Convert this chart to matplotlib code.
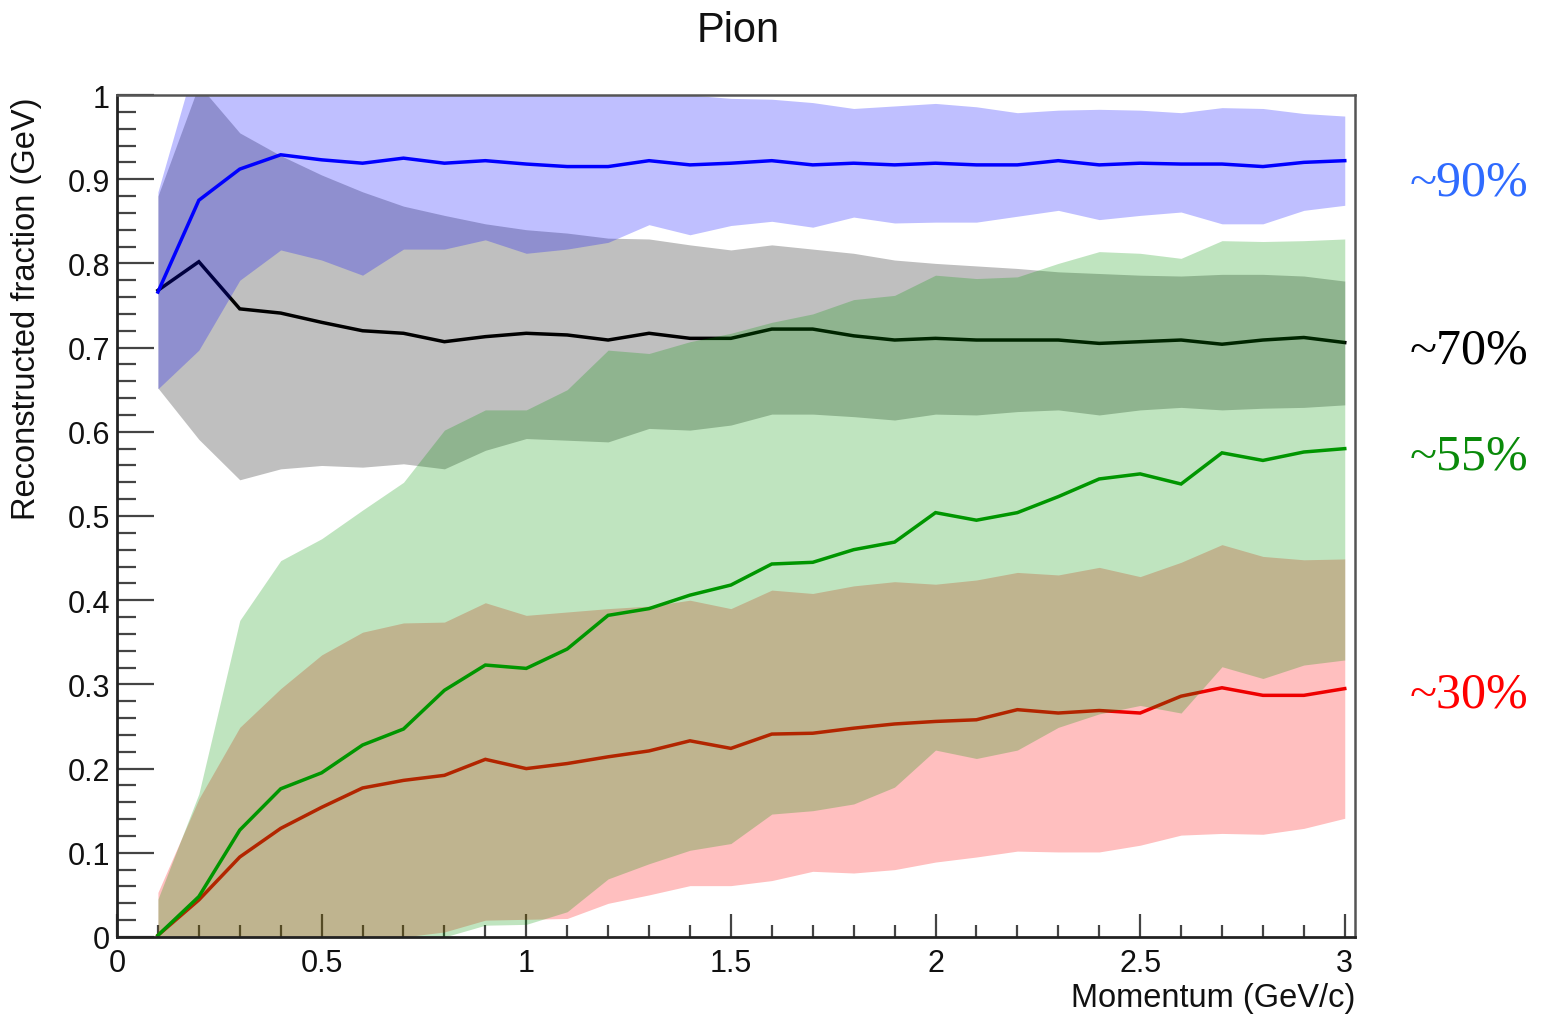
import matplotlib
matplotlib.use("Agg")
import matplotlib.pyplot as plt
from matplotlib.ticker import MultipleLocator, FuncFormatter

# Momentum bins (GeV/c)
momentum = [0.1, 0.2, 0.3, 0.4, 0.5, 0.6, 0.7, 0.8, 0.9, 1.0,
            1.1, 1.2, 1.3, 1.4, 1.5, 1.6, 1.7, 1.8, 1.9, 2.0,
            2.1, 2.2, 2.3, 2.4, 2.5, 2.6, 2.7, 2.8, 2.9, 3.0]

# Blue: mean and +/- spread
blue_mean = [0.766, 0.875, 0.912, 0.929, 0.923, 0.919, 0.925, 0.919, 0.922, 0.918,
             0.915, 0.915, 0.922, 0.917, 0.919, 0.922, 0.917, 0.919, 0.917, 0.919,
             0.917, 0.917, 0.922, 0.917, 0.919, 0.918, 0.918, 0.915, 0.920, 0.922]
blue_hi = [0.885, 1.055, 1.044, 1.042, 1.042, 1.052, 1.033, 1.021, 1.016, 1.024,
           1.013, 1.005, 1.000, 1.000, 0.996, 0.995, 0.991, 0.984, 0.987, 0.990,
           0.986, 0.979, 0.982, 0.983, 0.982, 0.979, 0.985, 0.984, 0.978, 0.975]
blue_lo = [0.651, 0.697, 0.780, 0.816, 0.804, 0.786, 0.817, 0.817, 0.828, 0.812,
           0.817, 0.825, 0.846, 0.834, 0.845, 0.850, 0.843, 0.855, 0.848, 0.849,
           0.849, 0.856, 0.863, 0.852, 0.857, 0.861, 0.847, 0.847, 0.863, 0.869]

# Black: mean and spread
black_mean = [0.768, 0.802, 0.746, 0.741, 0.730, 0.720, 0.717, 0.707, 0.713, 0.717,
              0.715, 0.709, 0.717, 0.711, 0.711, 0.722, 0.722, 0.714, 0.709, 0.711,
              0.709, 0.709, 0.709, 0.705, 0.707, 0.709, 0.704, 0.709, 0.712, 0.706]
black_hi = [0.880, 1.012, 0.955, 0.928, 0.905, 0.885, 0.868, 0.857, 0.847, 0.840,
            0.836, 0.830, 0.829, 0.822, 0.816, 0.822, 0.817, 0.812, 0.804, 0.800,
            0.797, 0.794, 0.790, 0.788, 0.786, 0.785, 0.787, 0.787, 0.785, 0.779]
black_lo = [0.652, 0.591, 0.543, 0.556, 0.560, 0.558, 0.562, 0.556, 0.578, 0.592,
            0.590, 0.588, 0.604, 0.602, 0.608, 0.621, 0.621, 0.618, 0.614, 0.621,
            0.620, 0.624, 0.626, 0.620, 0.626, 0.629, 0.626, 0.628, 0.629, 0.632]

# Green: mean and spread
green_mean = [0.002, 0.048, 0.127, 0.176, 0.195, 0.228, 0.247, 0.293, 0.323, 0.319,
              0.342, 0.382, 0.390, 0.406, 0.418, 0.443, 0.445, 0.460, 0.469, 0.504,
              0.495, 0.504, 0.523, 0.544, 0.550, 0.538, 0.575, 0.566, 0.576, 0.580]
green_hi = [0.045, 0.170, 0.376, 0.447, 0.473, 0.507, 0.540, 0.602, 0.626, 0.626,
            0.650, 0.697, 0.693, 0.707, 0.717, 0.730, 0.740, 0.757, 0.762, 0.786,
            0.782, 0.784, 0.800, 0.814, 0.812, 0.806, 0.827, 0.826, 0.827, 0.829]
green_lo = [0.000, 0.000, 0.000, 0.000, 0.000, 0.000, 0.000, 0.000, 0.014, 0.015,
            0.030, 0.069, 0.087, 0.103, 0.111, 0.146, 0.150, 0.158, 0.178, 0.222,
            0.212, 0.222, 0.249, 0.265, 0.275, 0.266, 0.321, 0.307, 0.323, 0.329]

# Red: mean and spread
red_mean = [0.002, 0.044, 0.095, 0.129, 0.154, 0.177, 0.186, 0.192, 0.211, 0.200,
            0.206, 0.214, 0.221, 0.233, 0.224, 0.241, 0.242, 0.248, 0.253, 0.256,
            0.258, 0.270, 0.266, 0.269, 0.266, 0.286, 0.296, 0.287, 0.287, 0.295]
red_hi = [0.053, 0.164, 0.249, 0.295, 0.335, 0.362, 0.373, 0.374, 0.397, 0.382,
          0.386, 0.390, 0.393, 0.400, 0.390, 0.412, 0.408, 0.417, 0.422, 0.419,
          0.424, 0.433, 0.430, 0.439, 0.428, 0.445, 0.466, 0.452, 0.448, 0.449]
red_lo = [0.000, 0.000, 0.000, 0.000, 0.000, 0.000, 0.000, 0.006, 0.020, 0.021,
          0.022, 0.040, 0.050, 0.061, 0.061, 0.067, 0.078, 0.076, 0.080, 0.089,
          0.095, 0.102, 0.101, 0.101, 0.109, 0.121, 0.123, 0.122, 0.129, 0.141]

# Side annotations
annot_text = ["~90%", "~70%", "~55%", "~30%"]
annot_color = ["#2f6bff", "#000000", "#0a8a0a", "#ff0000"]
annot_baseline_px = [195, 363, 470, 708]

W, H = 1548, 1020
fig = plt.figure(figsize=(W / 100, H / 100), dpi=100)
fig.patch.set_facecolor("white")

ax_l, ax_r, ax_t, ax_b = 117, 1355, 96, 938
ax = fig.add_axes([ax_l / W, (H - ax_b) / H, (ax_r - ax_l) / W, (ax_b - ax_t) / H])

sans = ["Liberation Sans", "DejaVu Sans"]
serif = ["Liberation Serif", "DejaVu Serif"]

# Bands and lines, drawn in layering order
layers = [
    (black_lo, black_hi, black_mean, "#000000", "#000000"),
    (red_lo, red_hi, red_mean, "#ff0000", "#ee0000"),
    (green_lo, green_hi, green_mean, "#009600", "#009600"),
    (blue_lo, blue_hi, blue_mean, "#0000ff", "#0000ff"),
]
z = 1
for lo, hi, mean, fcol, lcol in layers:
    ax.fill_between(momentum, lo, hi, color=fcol, alpha=0.25, linewidth=0, zorder=z)
    ax.plot(momentum, mean, color=lcol, lw=2.5, zorder=z + 0.5, solid_joinstyle="miter")
    z += 1

ax.set_xlim(0, 3.025)
ax.set_ylim(0, 1)

fmt = FuncFormatter(lambda v, p: "%g" % round(v, 2))
ax.xaxis.set_major_locator(MultipleLocator(0.5))
ax.xaxis.set_minor_locator(MultipleLocator(0.1))
ax.yaxis.set_major_locator(MultipleLocator(0.1))
ax.yaxis.set_minor_locator(MultipleLocator(0.02))
ax.xaxis.set_major_formatter(fmt)
ax.yaxis.set_major_formatter(fmt)

ax.tick_params(axis="both", which="both", direction="in", top=False, right=False,
               color="#444444", width=1.6, labelcolor="#111111", labelsize=22)
ax.tick_params(axis="y", which="major", length=26.5, pad=5)
ax.tick_params(axis="y", which="minor", length=13.5)
ax.tick_params(axis="x", which="major", length=16.5, pad=8)
ax.tick_params(axis="x", which="minor", length=8.5)
for lab in ax.get_xticklabels() + ax.get_yticklabels():
    lab.set_family(sans)

for side in ["left", "bottom"]:
    ax.spines[side].set_linewidth(2.0)
    ax.spines[side].set_color("#222222")
for side in ["top", "right"]:
    ax.spines[side].set_linewidth(1.8)
    ax.spines[side].set_color("#555555")
for s in ax.spines.values():
    s.set_zorder(10)

# Titles
fig.text(738 / W, 1 - 42 / H, "Pion", family=sans, fontsize=30,
         ha="center", va="baseline", color="#111111")
fig.text(ax_r / W, 1 - 1007 / H, "Momentum (GeV/c)", family=sans, fontsize=23.5,
         ha="right", va="baseline", color="#111111")
fig.text(27 / W, 1 - 97 / H, "Reconstructed fraction (GeV)", family=sans,
         fontsize=23.5, rotation=90, ha="center", va="top", color="#111111")

for txt, col, yb in zip(annot_text, annot_color, annot_baseline_px):
    fig.text(1410 / W, 1 - yb / H, txt, family=serif, fontsize=36,
             ha="left", va="baseline", color=col)

fig.savefig("out.png", dpi=100, facecolor="white")
